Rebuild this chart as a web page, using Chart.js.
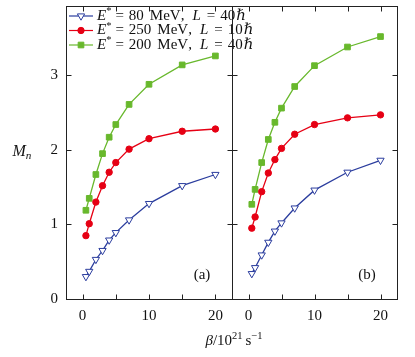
<!DOCTYPE html>
<html><head><meta charset="utf-8">
<script src="https://cdn.jsdelivr.net/npm/chart.js@4.4.1/dist/chart.umd.min.js"></script>
<style>
html,body{margin:0;padding:0;background:#fff;}
#wrap{position:relative;width:415px;height:357px;overflow:hidden;background:#fff;}
canvas{position:absolute;left:0;top:0;}
.lbl{position:absolute;font-family:'Liberation Serif','DejaVu Serif',serif;color:#111;line-height:1;white-space:nowrap;transform:translate(-50%,-50%);}
.lbl sup{font-size:70%;vertical-align:0.5em;line-height:0;}
.lbl sub{font-size:70%;vertical-align:-0.25em;line-height:0;}
</style></head>
<body><div id="wrap">
<canvas id="ca" width="415" height="357"></canvas>
<canvas id="cb" width="415" height="357"></canvas>
<div class="lbl" style="left:22px;top:151px;font-size:16px"><i>M</i><sub><i>n</i></sub></div>
<div class="lbl" style="left:234px;top:340px;font-size:15px"><i>β</i>/10<sup>21</sup>&#8201;s<sup>−1</sup></div>
</div>
<script>
// ---- data ----
const betaValues = [0.5, 1, 2, 3, 4, 5, 7, 10, 15, 20];
const energies = [80, 250, 200];
const spins = [40, 10, 40];
const panelA_E80  = [0.30, 0.37, 0.53, 0.65, 0.79, 0.89, 1.06, 1.28, 1.52, 1.67];
const panelA_E250 = [0.85, 1.01, 1.30, 1.52, 1.70, 1.83, 2.01, 2.15, 2.25, 2.28];
const panelA_E200 = [1.19, 1.35, 1.67, 1.95, 2.17, 2.34, 2.61, 2.88, 3.14, 3.26];
const panelB_E80  = [0.34, 0.42, 0.59, 0.76, 0.91, 1.02, 1.22, 1.46, 1.70, 1.86];
const panelB_E250 = [0.95, 1.10, 1.44, 1.69, 1.87, 2.02, 2.21, 2.34, 2.43, 2.47];
const panelB_E200 = [1.27, 1.47, 1.83, 2.14, 2.37, 2.56, 2.85, 3.13, 3.38, 3.52];
const xTickLabels = [0, 10, 20];
const xMinorTicks = [0, 5, 10, 15, 20];
const yTickLabels = [0, 1, 2, 3];
const panelLabels = ['(a)', '(b)'];

// ---- styles ----
const FAM = "'Liberation Serif','DejaVu Serif',serif";
const styles = [
  {color:'#2b3d9e', fill:'#ffffff', style:'triangle', rot:180, r:4.2, bw:1},
  {color:'#e60014', fill:'#e60014', style:'circle', rot:0, r:3.2, bw:1},
  {color:'#68b82c', fill:'#68b82c', style:'rect', rot:0, r:4.0, bw:1}
];

function px(v){ return Math.round(v) + 0.5; }

const framePlugin = {
  id:'frame',
  beforeDatasetsDraw(chart){
    const {ctx, chartArea:a, scales:{x, y}} = chart;
    ctx.save();
    ctx.strokeStyle = '#222';
    ctx.lineWidth = 1;
    const L = px(a.left), R = px(a.right), T = px(a.top), B = px(a.bottom);
    ctx.strokeRect(L, T, R - L, B - T);
    ctx.beginPath();
    const tl = 5;
    xMinorTicks.forEach(v => {
      const xx = px(x.getPixelForValue(v));
      ctx.moveTo(xx, B); ctx.lineTo(xx, B - tl);
      ctx.moveTo(xx, T); ctx.lineTo(xx, T + tl);
    });
    yTickLabels.forEach(v => {
      const yy = px(y.getPixelForValue(v));
      ctx.moveTo(L, yy); ctx.lineTo(L + tl, yy);
      ctx.moveTo(R, yy); ctx.lineTo(R - tl, yy);
    });
    ctx.stroke();
    ctx.fillStyle = '#111';
    ctx.font = '15px ' + FAM;
    ctx.textAlign = 'center';
    ctx.textBaseline = 'middle';
    ctx.fillText(chart.options.plugins.frame.label, a.right - 30, a.bottom - 24);
    ctx.restore();
  }
};

function drawMarker(ctx, s, x, y){
  ctx.save();
  ctx.strokeStyle = s.color; ctx.fillStyle = s.fill; ctx.lineWidth = s.bw;
  if (Chart.helpers && Chart.helpers.drawPoint) {
    Chart.helpers.drawPoint(ctx, {pointStyle:s.style, rotation:s.rot, radius:s.r, borderWidth:s.bw}, x, y);
  }
  ctx.restore();
}

function legendSegments(k){
  return [
    {t:'E', i:true}, {t:'*', sup:true}, {g:4}, {t:'='}, {g:5}, {t:String(energies[k])}, {g:6},
    {t:'MeV'}, {t:','}, {g:8}, {t:'L', i:true}, {g:6}, {t:'='}, {g:5}, {t:String(spins[k])}, {g:1}, {t:'ℏ', i:true}
  ];
}

const legendPlugin = {
  id:'richLegend',
  afterDraw(chart){
    const ctx = chart.ctx;
    const x0 = 69, x1 = 93, tx = 97, y0 = 16, dy = 14.5, size = 15;
    styles.forEach((s, k) => {
      const y = y0 + k * dy;
      ctx.save();
      ctx.strokeStyle = s.color; ctx.lineWidth = 1.2;
      ctx.beginPath(); ctx.moveTo(x0, y); ctx.lineTo(x1, y); ctx.stroke();
      ctx.restore();
      drawMarker(ctx, s, (x0 + x1) / 2, y);
      ctx.save();
      ctx.fillStyle = '#111';
      ctx.textBaseline = 'middle';
      ctx.textAlign = 'left';
      let x = tx;
      legendSegments(k).forEach(seg => {
        if (seg.g !== undefined) { x += seg.g; return; }
        const fs = seg.sup ? size * 0.7 : size;
        ctx.font = (seg.i ? 'italic ' : '') + fs + 'px ' + FAM;
        ctx.fillText(seg.t, x, seg.sup ? y - size * 0.3 : y);
        x += ctx.measureText(seg.t).width;
      });
      ctx.restore();
    });
  }
};

function makeChart(id, series, side){
  const isA = side === 'a';
  return new Chart(document.getElementById(id), {
    type:'line',
    data:{
      datasets: styles.map((s, k) => ({
        data: betaValues.map((b, i) => ({x:b, y:series[k][i]})),
        borderColor:s.color, backgroundColor:s.fill,
        pointStyle:s.style, pointRotation:s.rot, pointRadius:s.r, pointHoverRadius:s.r,
        pointBorderColor:s.color, pointBackgroundColor:s.fill, pointBorderWidth:s.bw,
        borderWidth:1.3, tension:0, fill:false, clip:false
      }))
    },
    options:{
      responsive:false, animation:false, devicePixelRatio:1,
      events:[],
      layout:{padding:{left: isA ? 0 : 232, right: isA ? 415 - 232 : 415 - 397, top:6, bottom:0}},
      plugins:{legend:{display:false}, tooltip:{enabled:false}, frame:{label: isA ? panelLabels[0] : panelLabels[1]}},
      scales:{
        x:{
          type:'linear', min:-2.5, max:22.5,
          grid:{display:false, drawTicks:false}, border:{display:false},
          afterBuildTicks: sc => { sc.ticks = xTickLabels.map(v => ({value:v})); },
          afterFit: sc => { sc.height = 58; sc.paddingLeft = 0; sc.paddingRight = 0; },
          ticks:{padding:8, color:'#111', font:{family:FAM, size:15}, maxRotation:0, autoSkip:false}
        },
        y:{
          type:'linear', min:0, max:3.93,
          grid:{display:false, drawTicks:false}, border:{display:false},
          afterBuildTicks: sc => { sc.ticks = yTickLabels.map(v => ({value:v})); },
          afterFit: sc => { sc.width = isA ? 66 : 0; sc.paddingTop = 0; sc.paddingBottom = 0; },
          ticks:{display:isA, padding:8, color:'#111', font:{family:FAM, size:15}}
        }
      }
    },
    plugins: isA ? [framePlugin, legendPlugin] : [framePlugin]
  });
}

makeChart('ca', [panelA_E80, panelA_E250, panelA_E200], 'a');
makeChart('cb', [panelB_E80, panelB_E250, panelB_E200], 'b');
</script>
</body></html>
